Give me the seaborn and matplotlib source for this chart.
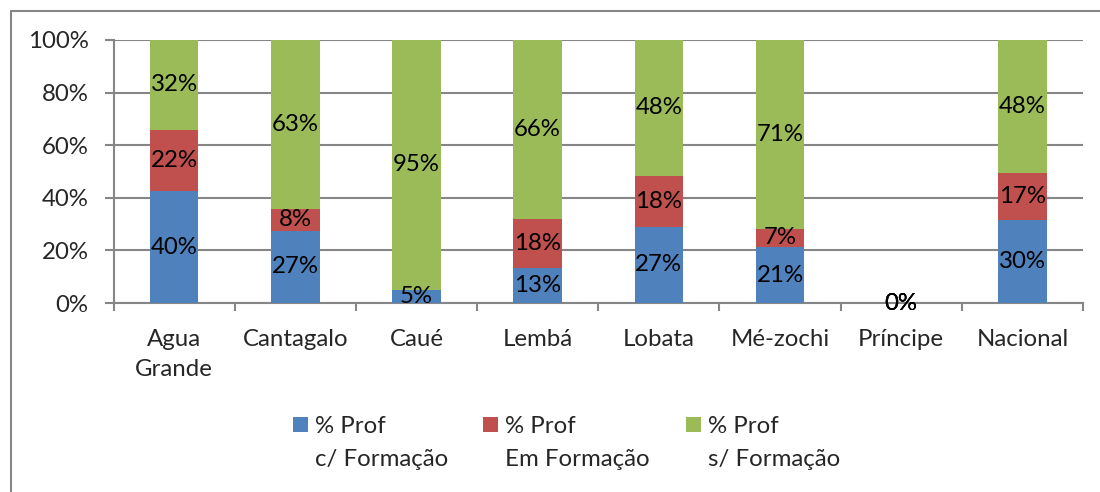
import matplotlib
matplotlib.use("Agg")
import matplotlib.pyplot as plt
import seaborn as sns
import pandas as pd
import numpy as np
from matplotlib.lines import Line2D
from matplotlib.patches import Patch

categories = ["Agua\nGrande", "Cantagalo", "Caué", "Lembá", "Lobata", "Mé-zochi", "Príncipe", "Nacional"]
com_formacao = [40, 27, 5, 13, 27, 21, 0, 30]
em_formacao = [22, 8, 0, 18, 18, 7, 0, 17]
sem_formacao = [32, 63, 95, 66, 48, 71, 0, 48]
series_names = ["% Prof", "% Prof", "% Prof"]
series_second = ["c/ Formação", "Em Formação", "s/ Formação"]
colors = ["#4F81BD", "#C0504D", "#9BBB59"]
yticks = [0, 20, 40, 60, 80, 100]

sns.set_theme(style="white")
plt.rcParams["font.family"] = ["Lato", "DejaVu Sans"]
FS = 17.3

df = pd.DataFrame({"cat": categories, "c": com_formacao, "e": em_formacao, "s": sem_formacao})
tot = (df["c"] + df["e"] + df["s"]).replace(0, np.nan)
df["pc"] = (df["c"] / tot * 100).fillna(0)
df["pe"] = (df["e"] / tot * 100).fillna(0)
df["ps"] = (df["s"] / tot * 100).fillna(0)
df["cum1"] = df["pc"]
df["cum2"] = df["pc"] + df["pe"]
df["cum3"] = df["pc"] + df["pe"] + df["ps"]

FW, FH = 1100, 492
fig = plt.figure(figsize=(11, 4.92), dpi=100)
L, R, T, B = 113.5, 1083, 40, 303
ax = fig.add_axes([L/FW, 1-B/FH, (R-L)/FW, (B-T)/FH])

W = 0.40
sns.barplot(data=df, x="cat", y="cum3", color=colors[2], saturation=1, width=W, ax=ax, zorder=3)
sns.barplot(data=df, x="cat", y="cum2", color=colors[1], saturation=1, width=W, ax=ax, zorder=3)
sns.barplot(data=df, x="cat", y="cum1", color=colors[0], saturation=1, width=W, ax=ax, zorder=3)
for p in ax.patches:
    p.set_edgecolor("none")

# labels
for i, row in df.iterrows():
    segs = [(row["c"], 0, row["cum1"]), (row["e"], row["cum1"], row["cum2"]), (row["s"], row["cum2"], row["cum3"])]
    for val, lo, hi in segs:
        if val == 0 and row["c"] + row["e"] + row["s"] > 0:
            continue
        ax.text(i, (lo + hi) / 2, f"{val}%", ha="center", va="center", fontsize=FS, color="black", zorder=5)

ax.set_xlim(-0.5, len(categories) - 0.5)
ax.set_ylim(0, 100)
ax.set_yticks(yticks)
ax.set_yticklabels([f"{v}%" for v in yticks], fontsize=FS)
ax.set_xlabel("")
ax.set_ylabel("")
ax.tick_params(axis="x", which="major", length=0, pad=18.5, labelsize=FS)
ax.set_xticks(np.arange(-0.5, len(categories), 1), minor=True)
ax.tick_params(axis="x", which="minor", length=5.8, width=1.5, color="#868686", direction="out", bottom=True)
ax.tick_params(axis="y", length=6.5, width=1.5, color="#868686", direction="out", pad=11.5, left=True)
ax.yaxis.grid(True, color="#868686", linewidth=1.5, zorder=0)
ax.set_axisbelow(True)
for s in ["top", "right"]:
    ax.spines[s].set_visible(False)
for s in ["left", "bottom"]:
    ax.spines[s].set_color("#868686")
    ax.spines[s].set_linewidth(1.5)
for lab in ax.get_xticklabels():
    lab.set_linespacing(1.55)
    lab.set_verticalalignment("top")

# border
fig.add_artist(Line2D([11/FW, 1.0], [1-11/FH, 1-11/FH], transform=fig.transFigure, color="#868686", lw=1.5))
fig.add_artist(Line2D([11/FW, 11/FW], [0, 1-11/FH], transform=fig.transFigure, color="#868686", lw=1.5))

# legend: one entry per series at Excel-like positions
leg_x = [292.7, 483.0, 686.0]
legs = []
for c, name, x in zip(colors, series_names, leg_x):
    lg = fig.legend([Patch(facecolor=c, edgecolor="none")], [name], loc="center left", frameon=False,
                    fontsize=FS, bbox_to_anchor=(x/FW, 1-426.5/FH), handlelength=0.62, handleheight=0.62,
                    handletextpad=0.3, borderaxespad=0, borderpad=0)
    legs.append(lg)
fig.canvas.draw()
r = fig.canvas.get_renderer()
for lg, second in zip(legs, series_second):
    bb = lg.get_texts()[0].get_window_extent(r)
    fig.text(bb.x0 / FW, 1-466/FH, second, fontsize=FS, ha="left", va="baseline")

fig.savefig("out.png", dpi=100)
